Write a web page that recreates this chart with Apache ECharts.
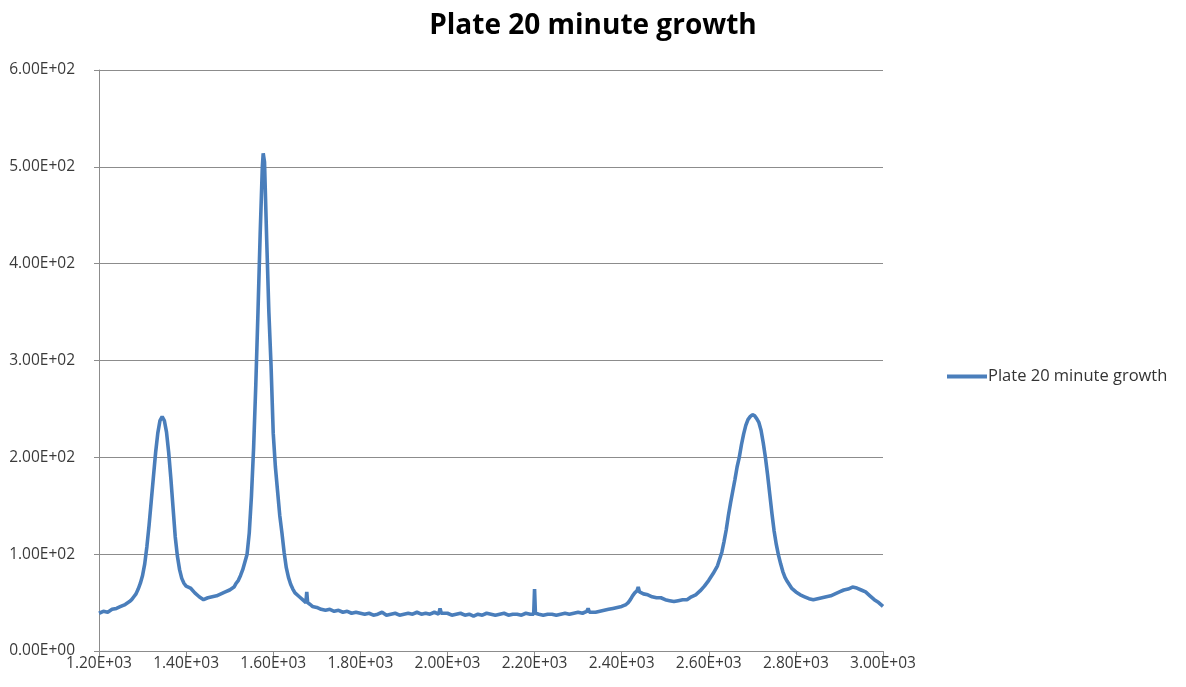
<!DOCTYPE html>
<html>
<head>
<meta charset="utf-8">
<script src="https://cdn.jsdelivr.net/npm/echarts@6/dist/echarts.min.js"></script>
<style>
  html, body { margin: 0; padding: 0; background: #ffffff; }
  #chart { width: 1186px; height: 687px; }
</style>
</head>
<body>
<div id="chart"></div>
<script>
// Plate reading after 20 minutes of growth
const seriesName = 'Plate 20 minute growth';

const xValues = [
  1200, 1210, 1220, 1230, 1240, 1250, 1260, 1270, 1275, 1280, 1285, 1290, 1295, 1300,
  1305, 1310, 1315, 1320, 1325, 1330, 1335, 1340, 1345, 1350, 1355, 1360, 1365, 1370,
  1375, 1380, 1385, 1390, 1395, 1400, 1410, 1420, 1430, 1440, 1450, 1460, 1470, 1480,
  1490, 1500, 1510, 1515, 1520, 1525, 1530, 1535, 1540, 1545, 1550, 1555, 1560, 1565,
  1570, 1575, 1577, 1580, 1585, 1590, 1595, 1600, 1605, 1610, 1615, 1620, 1625, 1630,
  1635, 1640, 1645, 1650, 1660, 1670, 1675, 1677, 1679, 1685, 1690, 1700, 1710, 1720,
  1730, 1740, 1750, 1760, 1770, 1780, 1790, 1800, 1810, 1820, 1830, 1840, 1850, 1860,
  1870, 1880, 1890, 1900, 1910, 1920, 1930, 1940, 1950, 1960, 1970, 1980, 1983, 1986,
  1990, 2000, 2010, 2020, 2030, 2040, 2050, 2060, 2070, 2080, 2090, 2100, 2110, 2120,
  2130, 2140, 2150, 2160, 2170, 2180, 2190, 2198, 2200, 2202, 2210, 2220, 2230, 2240,
  2250, 2260, 2270, 2280, 2290, 2300, 2310, 2320, 2323, 2326, 2330, 2340, 2350, 2360,
  2370, 2380, 2390, 2400, 2410, 2415, 2420, 2425, 2430, 2435, 2438, 2441, 2445, 2450,
  2460, 2470, 2480, 2490, 2500, 2510, 2520, 2530, 2540, 2550, 2560, 2570, 2580, 2590,
  2600, 2610, 2620, 2625, 2630, 2635, 2640, 2645, 2650, 2655, 2660, 2665, 2670, 2675,
  2680, 2685, 2690, 2695, 2700, 2705, 2710, 2715, 2720, 2725, 2730, 2735, 2740, 2745,
  2750, 2755, 2760, 2765, 2770, 2775, 2780, 2790, 2800, 2810, 2820, 2830, 2840, 2850,
  2860, 2870, 2880, 2890, 2900, 2910, 2920, 2930, 2940, 2950, 2960, 2970, 2980, 2990,
  3000
];

const yValues = [
  39, 41, 40, 43, 44, 46, 48, 51, 53, 56, 59, 64, 70, 78,
  90, 108, 130, 155, 180, 205, 225, 238, 242, 238, 226, 205, 178, 148,
  118, 98, 84, 75, 70, 67, 65, 60, 56, 53, 55, 56, 57, 59,
  61, 63, 66, 70, 73, 78, 84, 92, 100, 122, 160, 210, 275, 350,
  430, 500, 514, 505, 425, 350, 295, 225, 190, 165, 140, 122, 102, 86,
  76, 69, 64, 60, 56, 52, 50, 61, 50, 48, 46, 45, 43, 42,
  43, 41, 42, 40, 41, 39, 40, 39, 38, 39, 37, 38, 40, 37,
  38, 39, 37, 38, 39, 38, 40, 38, 39, 38, 40, 38, 44, 39,
  38, 39, 37, 38, 39, 37, 38, 36, 38, 37, 39, 38, 37, 38,
  39, 37, 38, 38, 37, 39, 38, 38, 64, 39, 38, 37, 38, 38,
  37, 38, 39, 38, 39, 40, 39, 41, 44, 40, 41, 40, 41, 42,
  43, 44, 45, 46, 48, 50, 53, 57, 60, 62, 66, 61, 61, 59,
  58, 56, 55, 55, 53, 52, 51, 52, 53, 53, 56, 58, 62, 67,
  73, 80, 88, 95, 102, 113, 125, 140, 153, 165, 177, 190, 200, 213,
  224, 233, 239, 242, 244, 243, 240, 236, 228, 215, 200, 182, 162, 142,
  124, 110, 99, 90, 82, 76, 72, 65, 61, 58, 56, 54, 53, 54,
  55, 56, 57, 59, 61, 63, 64, 66, 65, 63, 61, 57, 53, 50,
  46
];

// Excel-style scientific labels: 1.20E+03, 0.00E+00
function sci(v) {
  if (v === 0) return '0.00E+00';
  const exp = Math.floor(Math.log10(Math.abs(v)));
  const mant = v / Math.pow(10, exp);
  const sign = exp < 0 ? '-' : '+';
  const e = String(Math.abs(exp)).padStart(2, '0');
  return mant.toFixed(2) + 'E' + sign + e;
}

const points = xValues.map((x, i) => [x, yValues[i]]);

const gridGray = '#8c8c8c';
const labelFont = 'Open Sans';
const lineBlue = '#4a7ebb';

const chart = echarts.init(document.getElementById('chart'), null, { renderer: 'canvas' });
chart.setOption({
  animation: false,
  backgroundColor: '#ffffff',
  title: {
    text: 'Plate 20 minute growth',
    left: 'center',
    top: 7,
    textStyle: {
      fontFamily: labelFont,
      fontWeight: 'bold',
      fontSize: 28,
      color: '#000000'
    }
  },
  legend: {
    data: [seriesName],
    orient: 'vertical',
    left: 942,
    top: 363,
    itemWidth: 40,
    itemHeight: 4,
    itemGap: 4,
    icon: 'rect',
    textStyle: {
      fontFamily: labelFont,
      fontSize: 16.5,
      color: '#333333',
      padding: [0, 0, 0, -4]
    }
  },
  grid: {
    left: 99,
    right: 303,
    top: 70,
    bottom: 36,
    containLabel: false
  },
  xAxis: {
    type: 'value',
    min: 1200,
    max: 3000,
    interval: 200,
    axisLine: { show: true, lineStyle: { color: gridGray, width: 1 } },
    axisTick: { show: true, inside: false, length: 5, lineStyle: { color: gridGray } },
    splitLine: { show: false },
    axisLabel: {
      formatter: sci,
      fontFamily: labelFont,
      fontSize: 15.5,
      color: '#3a3a3a',
      margin: 5
    }
  },
  yAxis: {
    type: 'value',
    min: 0,
    max: 600,
    interval: 100,
    axisLine: { show: true, lineStyle: { color: gridGray, width: 1 } },
    axisTick: { show: true, inside: false, length: 5, lineStyle: { color: gridGray } },
    splitLine: { show: true, lineStyle: { color: gridGray, width: 1 } },
    axisLabel: {
      formatter: sci,
      fontFamily: labelFont,
      fontSize: 15.5,
      color: '#3a3a3a',
      margin: 24
    }
  },
  series: [{
    name: seriesName,
    type: 'line',
    data: points,
    showSymbol: false,
    smooth: false,
    lineStyle: { color: lineBlue, width: 3.6 },
    itemStyle: { color: lineBlue }
  }]
});
</script>
</body>
</html>
